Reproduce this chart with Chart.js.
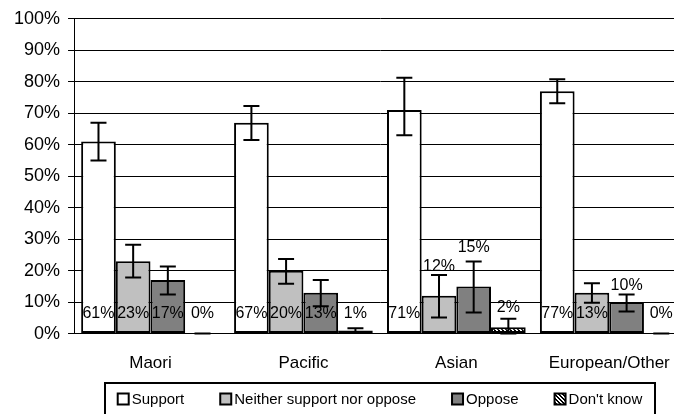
<!DOCTYPE html>
<html>
<head>
<meta charset="utf-8">
<script src="https://cdn.jsdelivr.net/npm/chart.js@4.4.1/dist/chart.umd.min.js"></script>
<style>
  html, body { margin: 0; padding: 0; background: #fff; overflow: hidden; }
  #wrap { width: 674px; height: 414px; overflow: hidden; position: relative; }
  canvas { position: absolute; left: 0; top: 0; }
</style>
</head>
<body>
<div id="wrap"><canvas id="chart" width="690" height="414"></canvas></div>
<script>
// dados
const categories = ['Maori', 'Pacific', 'Asian', 'European/Other'];
const seriesNames = ['Support', 'Neither support nor oppose', 'Oppose', "Don't know"];

const support  = [61, 67, 71, 77];
const neither  = [23, 20, 12, 13];
const oppose   = [17, 13, 15, 10];
const dontKnow = [0, 1, 2, 0];

// intervalos (barras de erro)
const supportLow   = [55, 61.5, 63, 73.2];
const supportHigh  = [67, 72.3, 81.3, 80.8];
const neitherLow   = [17.8, 15.8, 5.1, 9.8];
const neitherHigh  = [28.2, 23.7, 18.6, 16];
const opposeLow    = [12.4, 8.7, 6.7, 7];
const opposeHigh   = [21.3, 17, 22.9, 12.4];
const dontKnowLow  = [0, 0.3, 0, 0];
const dontKnowHigh = [0, 1.7, 4.7, 0];

const yTicks = [0, 10, 20, 30, 40, 50, 60, 70, 80, 90, 100];

// posição dos rótulos (em % do eixo), null = posição padrão
const labelDefault = 6.4;
const labelPlace = [
  [null, null, null, null],
  [null, null, 21.2, null],
  [null, null, 27.2, 15.4],
  [null, null, 8.3, null]
];

const FONT = "'Liberation Sans', Arial, sans-serif";

// padrão hachurado para "Don't know"
function makePattern() {
  const c = document.createElement('canvas');
  c.width = 4; c.height = 4;
  const g = c.getContext('2d');
  g.fillStyle = '#fff';
  g.fillRect(0, 0, 4, 4);
  g.fillStyle = '#000';
  g.fillRect(0, 0, 1, 1); g.fillRect(1, 1, 1, 1); g.fillRect(2, 2, 1, 1); g.fillRect(3, 3, 1, 1);
  g.fillRect(1, 0, 1, 1); g.fillRect(2, 1, 1, 1); g.fillRect(3, 2, 1, 1); g.fillRect(0, 3, 1, 1);
  return document.getElementById('chart').getContext('2d').createPattern(c, 'repeat');
}
const hatch = makePattern();

const fills = ['#ffffff', '#c0c0c0', '#808080', hatch];
const values = [support, neither, oppose, dontKnow];
const lows = [supportLow, neitherLow, opposeLow, dontKnowLow];
const highs = [supportHigh, neitherHigh, opposeHigh, dontKnowHigh];

// barras de erro + rótulos
const extras = {
  id: 'extras',
  afterDatasetsDraw(chart) {
    const ctx = chart.ctx;
    const y = chart.scales.y;
    ctx.save();
    ctx.strokeStyle = '#000';
    ctx.lineWidth = 2;
    chart.data.datasets.forEach((ds, i) => {
      const meta = chart.getDatasetMeta(i);
      meta.data.forEach((bar, j) => {
        const x = bar.x;
        const yl = y.getPixelForValue(lows[i][j]);
        const yh = y.getPixelForValue(highs[i][j]);
        ctx.beginPath();
        ctx.moveTo(x, yl); ctx.lineTo(x, yh);
        ctx.moveTo(x - 8, yl); ctx.lineTo(x + 8, yl);
        ctx.moveTo(x - 8, yh); ctx.lineTo(x + 8, yh);
        ctx.stroke();
      });
    });
    ctx.fillStyle = '#000';
    ctx.font = '16px ' + FONT;
    ctx.textAlign = 'center';
    ctx.textBaseline = 'middle';
    chart.data.datasets.forEach((ds, i) => {
      const meta = chart.getDatasetMeta(i);
      meta.data.forEach((bar, j) => {
        const pos = labelPlace[i][j] == null ? labelDefault : labelPlace[i][j];
        ctx.fillText(values[i][j] + '%', bar.x, y.getPixelForValue(pos));
      });
    });
    ctx.restore();
  },
  afterDraw(chart) {
    // legenda com moldura
    const ctx = chart.ctx;
    ctx.save();
    ctx.font = '15px ' + FONT;
    const box = 11, gapText = 3, gapItem = 36;
    const widths = seriesNames.map(n => box + gapText + ctx.measureText(n).width);
    const total = widths.reduce((a, b) => a + b, 0) + gapItem * (seriesNames.length - 1);
    const left = 105, right = 655, top = 383, cy = 399;
    ctx.strokeStyle = '#000';
    ctx.lineWidth = 2;
    ctx.strokeRect(left, top, right - left, 40);
    let x = (left + right) / 2 - total / 2;
    seriesNames.forEach((n, i) => {
      ctx.fillStyle = fills[i];
      ctx.fillRect(x, cy - box / 2, box, box);
      ctx.strokeRect(x, cy - box / 2, box, box);
      ctx.fillStyle = '#000';
      ctx.textBaseline = 'middle';
      ctx.textAlign = 'left';
      ctx.fillText(n, x + box + gapText, cy + 1);
      x += widths[i] + gapItem;
    });
    ctx.restore();
  }
};

const chart = new Chart(document.getElementById('chart'), {
  type: 'bar',
  data: {
    labels: categories,
    datasets: seriesNames.map((name, i) => ({
      label: name,
      data: values[i],
      backgroundColor: fills[i],
      borderColor: '#000',
      borderWidth: 2,
      borderSkipped: false,
      categoryPercentage: 0.907,
      barPercentage: 1
    }))
  },
  options: {
    responsive: false,
    animation: false,
    layout: { padding: { left: 6, right: 2, top: 14, bottom: 20 } },
    plugins: { legend: { display: false }, tooltip: { enabled: false } },
    scales: {
      x: {
        grid: { display: false, drawTicks: false },
        border: { color: '#000', width: 1 },
        ticks: { color: '#000', font: { family: FONT, size: 17 }, padding: 20 }
      },
      y: {
        min: 0,
        max: 100,
        afterBuildTicks(axis) { axis.ticks = yTicks.map(v => ({ value: v })); },
        grid: { color: '#000', lineWidth: 1, tickLength: 6 },
        border: { color: '#000', width: 1 },
        ticks: {
          color: '#000',
          font: { family: FONT, size: 18 },
          padding: 8,
          callback: v => v + '%'
        }
      }
    }
  },
  plugins: [extras]
});
</script>
</body>
</html>
